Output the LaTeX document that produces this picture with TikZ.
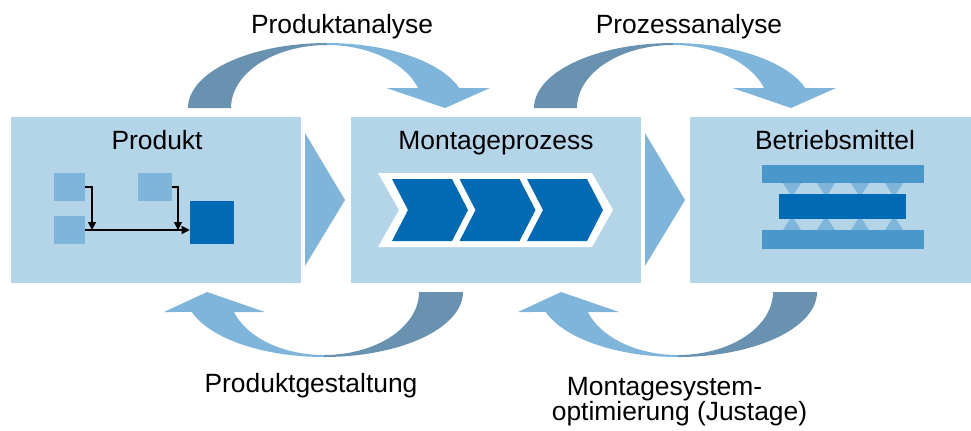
\documentclass[tikz,border=0pt]{standalone}
\usepackage{fontspec}
\setmainfont{Liberation Sans}
\usetikzlibrary{arrows.meta}

\definecolor{boxfill}{HTML}{B4D4E8}
\definecolor{lightblue}{HTML}{7FB5DA}
\definecolor{slateblue}{HTML}{6892B0}
\definecolor{deepblue}{HTML}{006AB4}
\definecolor{barblue}{HTML}{4A98CB}

% curved arrow over the top (dark back half left, light front half with head right)
\newcommand\toparc[1]{%
  \fill[slateblue] plot[domain=180:90,samples=50] ({#1+139*cos(\x)},{108-65*sin(\x)})
    -- plot[domain=90:180,samples=50] ({#1+96*cos(\x)},{108-63*sin(\x)}) -- cycle;
  \fill[lightblue] plot[domain=90:17.9,samples=50] ({#1+139*cos(\x)},{108-65*sin(\x)})
    -- (#1+163,88) -- (#1+118,108) -- (#1+59.5,88)
    -- plot[domain=18.5:90,samples=50] ({#1+96*cos(\x)},{108-63*sin(\x)}) -- cycle;}
% curved arrow underneath (dark half right, light half with head left)
\newcommand\botarc[1]{%
  \fill[slateblue] plot[domain=0:90,samples=50] ({#1+139*cos(\x)},{292+65*sin(\x)})
    -- plot[domain=90:0,samples=50] ({#1+95*cos(\x)},{292+63*sin(\x)}) -- cycle;
  \fill[lightblue] plot[domain=90:162.1,samples=50] ({#1+139*cos(\x)},{292+65*sin(\x)})
    -- (#1-160,312) -- (#1-117,292) -- (#1-59,312)
    -- plot[domain=161.5:90,samples=50] ({#1+95*cos(\x)},{292+63*sin(\x)}) -- cycle;}
% one chevron of the process strip, left edge at #1
\newcommand\chev[1]{%
  \fill[deepblue] (#1,179) -- (#1+60,179) -- (#1+76,210) -- (#1+60,241)
    -- (#1,241) -- (#1+16,210) -- cycle;}

\tikzset{
  panel/.style={fill=boxfill, inner sep=0pt, minimum width=290*0.75pt, minimum height=166*0.75pt},
  title/.style={anchor=base, inner sep=0pt, font=\fontsize{19.8}{23.8}\selectfont},
  part/.style={fill=lightblue, inner sep=0pt},
  flow/.style={draw=black, line width=0.9pt, -{Triangle[length=6pt,width=6pt]}},
}

\begin{document}
\begin{tikzpicture}[x=0.75pt, y=-0.75pt]
\useasboundingbox (0,0) rectangle (971,430);

% three panels
\node[panel] (produkt) at (156,200) {};
\node[panel] (prozess) at (496,200) {};
\node[panel, minimum width=281*0.75pt] (mittel) at (830.5,200) {};

% triangular arrows between the panels
\fill[lightblue] (305,133) -- (345,200) -- (305,266) -- cycle;
\fill[lightblue] (645,133) -- (685,200) -- (645,266) -- cycle;

% panel titles
\node[title] (tprodukt) at (157,149) {Produkt};
\node[title] (tprozess) at (496,149) {Montageprozess};
\node[title] (tmittel) at (835,149) {Betriebsmittel};

% product structure
\node[part, minimum width=31*0.75pt, minimum height=28*0.75pt] (p1) at (69.5,187) {};
\node[part, minimum width=31*0.75pt, minimum height=28*0.75pt] (p2) at (69.5,230) {};
\node[part, minimum width=34*0.75pt, minimum height=28*0.75pt] (p3) at (155,187) {};
\node[fill=deepblue, inner sep=0pt, minimum width=44*0.75pt, minimum height=43*0.75pt] (pd) at (212,222.5) {};
\coordinate (j1) at (92,230);
\coordinate (j2) at (178,230);
\draw[flow] (p2.east) -- (p2.east -| pd.west);
\draw[flow] (p1.east) -| (j1);
\draw[flow] (p3.east) -| (j2);

% process chevrons on a white backing
\fill[white] (378,173) -- (592,173) -- (613,210) -- (592,247) -- (378,247) -- (399,210) -- cycle;
\chev{392}
\chev{459.5}
\chev{527}

% fixture: clamping bars with pressure points
\foreach \c in {792,826,860,894}{
  \fill[lightblue] (\c-9,183) -- (\c+9,183) -- (\c,197) -- cycle;
  \fill[lightblue] (\c-9,230) -- (\c+9,230) -- (\c,216) -- cycle;
}
\fill[barblue] (762,165) rectangle (924,183);
\fill[barblue] (762,230) rectangle (924,249);
\fill[deepblue] (779,194) rectangle (906,219);

% curved feedback arrows
\toparc{327}
\toparc{673}
\botarc{324}
\botarc{678}

% arrow labels
\node[title] (lanalyse) at (342,33) {Produktanalyse};
\node[title] (lprozess) at (689,33) {Prozessanalyse};
\node[title] (lgestalt) at (311,392) {Produktgestaltung};
\node[title] (lopt1) at (664.5,395) {Montagesystem-};
\node[title] (lopt2) at (679.5,420) {optimierung (Justage)};
\end{tikzpicture}
\end{document}
